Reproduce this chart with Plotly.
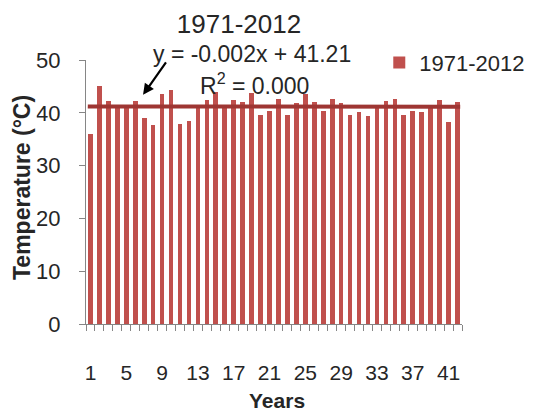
import numpy as np
import plotly.graph_objects as go

# Annual maximum temperature, 1971-2012 (year index 1..42)
years = list(range(1, 43))
temperature = [
    36.0, 45.1, 42.3, 41.3, 41.3, 42.3, 39.1, 37.7, 43.5, 44.4,
    37.9, 38.4, 41.3, 42.5, 44.0, 41.4, 42.5, 42.0, 43.7, 39.6,
    40.3, 42.7, 39.6, 41.8, 43.5, 42.1, 40.3, 42.7, 41.8, 39.6,
    40.1, 39.4, 41.2, 42.3, 42.7, 39.6, 40.3, 40.1, 41.2, 42.5,
    38.2, 42.0,
]
series_name = "1971-2012"

# Linear trend reported on the chart
slope = -0.002
intercept = 41.21
r_squared = 0.000

x_tick_vals = list(range(1, 43, 4))
y_tick_vals = [0, 10, 20, 30, 40, 50]

font_family = "Liberation Sans, Arial, sans-serif"
text_color = "#262626"
bar_color = "#C0504D"
trend_color = "#9E3633"
axis_color = "#868686"

trend_x = np.array([years[0] - 0.3, years[-1] + 0.3])
trend_y = slope * trend_x + intercept

fig = go.Figure()
fig.add_trace(go.Bar(
    x=years, y=temperature, name=series_name,
    marker=dict(color=bar_color, line=dict(width=0)),
    width=0.52,
))
fig.add_trace(go.Scatter(
    x=trend_x, y=trend_y, mode="lines",
    line=dict(color=trend_color, width=4),
    showlegend=False, hoverinfo="skip",
))

fig.update_layout(
    width=535, height=416,
    margin=dict(l=86, r=73, t=60, b=92, autoexpand=False),
    paper_bgcolor="white", plot_bgcolor="white",
    font=dict(family=font_family, color=text_color, size=20),
    title=dict(
        text=series_name, x=239 / 535, xanchor="center",
        y=1 - 24 / 416, yanchor="middle", yref="container",
        font=dict(size=26, color=text_color),
    ),
    showlegend=True,
    legend=dict(
        x=0.78, xanchor="left", y=0.99, yanchor="middle",
        bgcolor="rgba(0,0,0,0)", font=dict(size=22, color=text_color),
        itemwidth=30,
    ),
    bargap=0,
)

fig.update_xaxes(
    range=[0.5, 42.5],
    tickmode="array", tickvals=x_tick_vals,
    ticks="", ticklabelstandoff=30,
    tickfont=dict(size=21, color=text_color),
    showline=True, linecolor=axis_color, linewidth=1,
    showgrid=False, zeroline=False,
    minor=dict(ticks="outside", tick0=0.5, dtick=1, ticklen=6,
               tickcolor=axis_color, showgrid=False),
)
fig.update_yaxes(
    range=[0, 50],
    tickmode="array", tickvals=y_tick_vals,
    ticks="outside", ticklen=6, tickcolor=axis_color,
    ticklabelstandoff=14,
    tickfont=dict(size=22, color=text_color),
    showline=True, linecolor=axis_color, linewidth=1,
    showgrid=False, zeroline=False,
)

# Trend equation, R² and pointer arrow
fig.add_annotation(
    xref="paper", yref="paper", x=(252 - 86) / 376, y=(324 - 54) / 264,
    xanchor="center", yanchor="middle",
    text=f"y = {slope:.3f}x + {intercept:.2f}", showarrow=False,
    font=dict(size=23, color=text_color),
)
fig.add_annotation(
    xref="paper", yref="paper", x=(254 - 86) / 376, y=(324 - 84) / 264,
    xanchor="center", yanchor="middle",
    text=f"R<sup>2</sup> = {r_squared:.3f}", showarrow=False,
    font=dict(size=23, color=text_color),
)
fig.add_annotation(
    x=6.87, y=43.4, ax=24, ay=-34, text="",
    showarrow=True, arrowhead=2, arrowsize=1, arrowwidth=2.2,
    arrowcolor="black",
)

# Axis titles
fig.add_annotation(
    xref="paper", yref="paper", x=-64 / 376, y=(324 - 188) / 264,
    text="<b>Temperature (°C)</b>", textangle=-90, showarrow=False,
    font=dict(size=23, color=text_color), bgcolor="white",
    xanchor="center", yanchor="middle",
)
fig.add_annotation(
    xref="paper", yref="paper", x=(277 - 86) / 376, y=(324 - 400) / 264,
    text="<b>Years</b>", showarrow=False,
    font=dict(size=21, color=text_color),
    xanchor="center", yanchor="middle",
)

fig.write_html("out.html")
